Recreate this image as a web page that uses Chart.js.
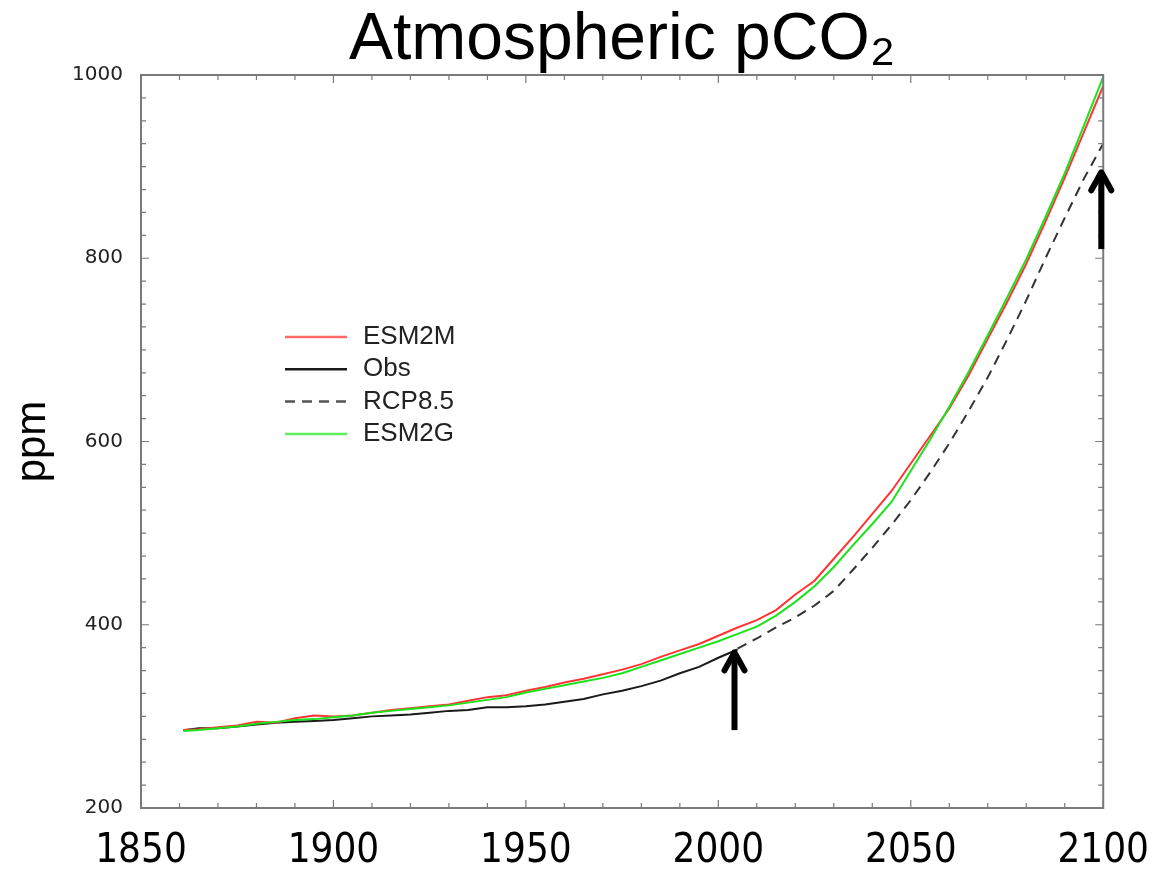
<!DOCTYPE html>
<html>
<head>
<meta charset="utf-8">
<title>Atmospheric pCO2</title>
<script src="https://cdn.jsdelivr.net/npm/chart.js@4.4.1/dist/chart.umd.min.js"></script>
<style>
  html, body { margin: 0; padding: 0; background: #fff; }
  #wrap { width: 1149px; height: 869px; position: relative; }
</style>
</head>
<body>
<div id="wrap"><canvas id="co2Chart"></canvas></div>
<script>
// Model runs (historical then RCP8.5-forced), ppm
const modelYears = [1861, 1865, 1870, 1875, 1880, 1885, 1890, 1895, 1900,
    1905, 1910, 1915, 1920, 1925, 1930, 1935, 1940, 1945, 1950,
    1955, 1960, 1965, 1970, 1975, 1980, 1985, 1990, 1995, 2000,
    2005, 2010, 2015, 2020, 2025, 2030, 2035, 2040, 2045, 2050,
    2055, 2060, 2065, 2070, 2075, 2080, 2085, 2090, 2095, 2100];
const esm2m = [285, 286, 288, 290, 294, 293, 298, 301, 300,
    301, 304, 307, 309, 311, 313, 317, 321, 323, 328,
    332, 337, 341, 346, 351, 357, 365, 372, 379, 388,
    397, 405, 416, 433, 448, 472, 496, 521, 546, 576,
    606, 636, 672, 712, 752, 794, 840, 888, 938, 988];
const esm2g = [284, 285, 287, 289, 292, 294, 296, 297, 299,
    301, 304, 306, 308, 310, 312, 315, 318, 321, 326,
    330, 334, 338, 342, 347, 354, 361, 368, 375, 382,
    390, 398, 410, 425, 442, 463, 487, 510, 534, 568,
    602, 638, 676, 716, 757, 799, 845, 893, 945, 998];

// Observed record
const obsYears = [1861, 1865, 1870, 1875, 1880, 1885, 1890, 1895, 1900,
    1905, 1910, 1915, 1920, 1925, 1930, 1935, 1940, 1945, 1950,
    1955, 1960, 1965, 1970, 1975, 1980, 1985, 1990, 1995, 2000, 2005];
const obs = [285, 287, 287, 289, 291, 293, 294, 295, 296,
    298, 300, 301, 302, 304, 306, 307, 310, 310, 311,
    313, 316, 319, 324, 328, 333, 339, 347, 354, 364, 373];

// RCP8.5 concentration pathway
const rcpYears = [2005, 2010, 2015, 2020, 2025, 2030, 2035, 2040, 2045, 2050,
    2055, 2060, 2065, 2070, 2075, 2080, 2085, 2090, 2095, 2100];
const rcp85 = [374, 385, 397, 408, 421, 437, 460, 484, 509, 536,
    566, 598, 633, 670, 711, 754, 800, 844, 887, 925];

// Annotation arrows (year, ppm tail -> ppm tip)
const arrowYears = [2004.2, 2099.5];
const arrowFrom = [285, 810];
const arrowTo = [372, 896];

function toPoints(xs, ys) {
    return ys.map(function (v, i) { return { x: xs[i], y: v }; });
}

// Box frame with inward ticks on all four sides
const framePlugin = {
    id: 'frame',
    afterDatasetsDraw(chart) {
        const { ctx, chartArea: a, scales: { x, y } } = chart;
        ctx.save();
        ctx.strokeStyle = '#7a7a7a';
        ctx.lineWidth = 2;
        ctx.strokeRect(a.left, a.top, a.right - a.left, a.bottom - a.top);
        ctx.lineWidth = 1.2;
        ctx.beginPath();
        for (let yr = 1850; yr <= 2100; yr += 10) {
            const px = x.getPixelForValue(yr);
            const len = yr % 50 === 0 ? 8 : 5;
            ctx.moveTo(px, a.bottom); ctx.lineTo(px, a.bottom - len);
            ctx.moveTo(px, a.top); ctx.lineTo(px, a.top + len);
        }
        for (let v = 200; v <= 1000; v += 25) {
            const py = y.getPixelForValue(v);
            const len = v % 200 === 0 ? 8 : 5;
            ctx.moveTo(a.left, py); ctx.lineTo(a.left + len, py);
            ctx.moveTo(a.right, py); ctx.lineTo(a.right - len, py);
        }
        ctx.stroke();
        ctx.restore();
    }
};

// Legend drawn inside the plot, lines + labels
const insideLegend = {
    id: 'insideLegend',
    afterDraw(chart) {
        const { ctx, chartArea: a } = chart;
        ctx.save();
        ctx.font = '26px "Liberation Sans", Arial, sans-serif';
        ctx.textBaseline = 'middle';
        ctx.fillStyle = '#222';
        chart.data.datasets.forEach(function (ds, i) {
            const yy = a.top + 262 + i * 32.3;
            const x0 = a.left + 144;
            ctx.strokeStyle = ds.legendColor || ds.borderColor;
            ctx.lineWidth = 2.5;
            ctx.setLineDash(ds.borderDash || []);
            ctx.beginPath();
            ctx.moveTo(x0, yy);
            ctx.lineTo(x0 + 62, yy);
            ctx.stroke();
            ctx.fillText(ds.label, x0 + 78, yy);
        });
        ctx.restore();
    }
};

// Black arrows at end of obs and end of RCP8.5
const arrowPlugin = {
    id: 'arrows',
    afterDraw(chart) {
        const { ctx, scales: { x, y } } = chart;
        ctx.save();
        ctx.strokeStyle = '#000';
        ctx.lineWidth = 6;
        arrowYears.forEach(function (yr, i) {
            const px = x.getPixelForValue(yr);
            const y0 = y.getPixelForValue(arrowFrom[i]);
            const y1 = y.getPixelForValue(arrowTo[i]);
            ctx.lineCap = 'butt';
            ctx.beginPath();
            ctx.moveTo(px, y0);
            ctx.lineTo(px, y1 + 3);
            ctx.stroke();
            ctx.lineCap = 'round';
            ctx.lineJoin = 'round';
            ctx.beginPath();
            ctx.moveTo(px - 10, y1 + 20);
            ctx.lineTo(px, y1 + 2);
            ctx.lineTo(px + 10, y1 + 20);
            ctx.stroke();
        });
        ctx.restore();
    }
};

const ctx = document.getElementById('co2Chart').getContext('2d');
new Chart(ctx, {
    type: 'line',
    data: {
        datasets: [{
            label: 'ESM2M',
            data: toPoints(modelYears, esm2m),
            borderColor: '#ff3535',
            legendColor: '#ff6b6b',
            order: 1
        }, {
            label: 'Obs',
            data: toPoints(obsYears, obs),
            borderColor: '#1a1a1a',
            order: 2
        }, {
            label: 'RCP8.5',
            data: toPoints(rcpYears, rcp85),
            borderColor: '#333',
            borderDash: [10, 7],
            legendColor: '#555',
            order: 3
        }, {
            label: 'ESM2G',
            data: toPoints(modelYears, esm2g),
            borderColor: '#1be31b',
            legendColor: '#5cf05c',
            order: 0
        }]
    },
    options: {
        responsive: true,
        maintainAspectRatio: false,
        animation: false,
        events: [],
        layout: { padding: { left: 0, right: 0, top: 0, bottom: 0 } },
        elements: {
            line: { borderWidth: 2, tension: 0, fill: false },
            point: { radius: 0 }
        },
        plugins: {
            legend: { display: false },
            tooltip: { enabled: false },
            title: {
                display: true,
                text: 'Atmospheric pCO\u2082',
                fullSize: false,
                color: '#000',
                font: { family: '"Liberation Sans", Arial, sans-serif', size: 66, weight: 'normal', lineHeight: 1 },
                padding: { top: 8, bottom: 1 }
            }
        },
        scales: {
            x: {
                type: 'linear',
                min: 1850,
                max: 2100,
                grid: { display: false, drawTicks: false },
                border: { display: false },
                ticks: {
                    stepSize: 50,
                    autoSkip: false,
                    maxRotation: 0,
                    padding: 0,
                    color: '#000',
                    font: { family: '"Liberation Sans Narrow", "DejaVu Sans Condensed", sans-serif', size: 40, lineHeight: 2.2 },
                    callback: function (v) { return String(v); }
                },
                afterFit: function (s) { s.height = 61; }
            },
            y: {
                min: 200,
                max: 1000,
                grid: { display: false, drawTicks: false },
                border: { display: false },
                ticks: {
                    stepSize: 200,
                    padding: 18,
                    color: '#222',
                    font: { family: '"DejaVu Sans", sans-serif', size: 20 },
                    callback: function (v) { return String(v); }
                },
                title: {
                    display: true,
                    text: 'ppm',
                    color: '#000',
                    font: { family: '"Liberation Sans", Arial, sans-serif', size: 42, lineHeight: 1 },
                    padding: { top: 12, bottom: 0 }
                },
                afterFit: function (s) { s.width = 141; }
            }
        }
    },
    plugins: [framePlugin, insideLegend, arrowPlugin]
});
</script>
</body>
</html>
